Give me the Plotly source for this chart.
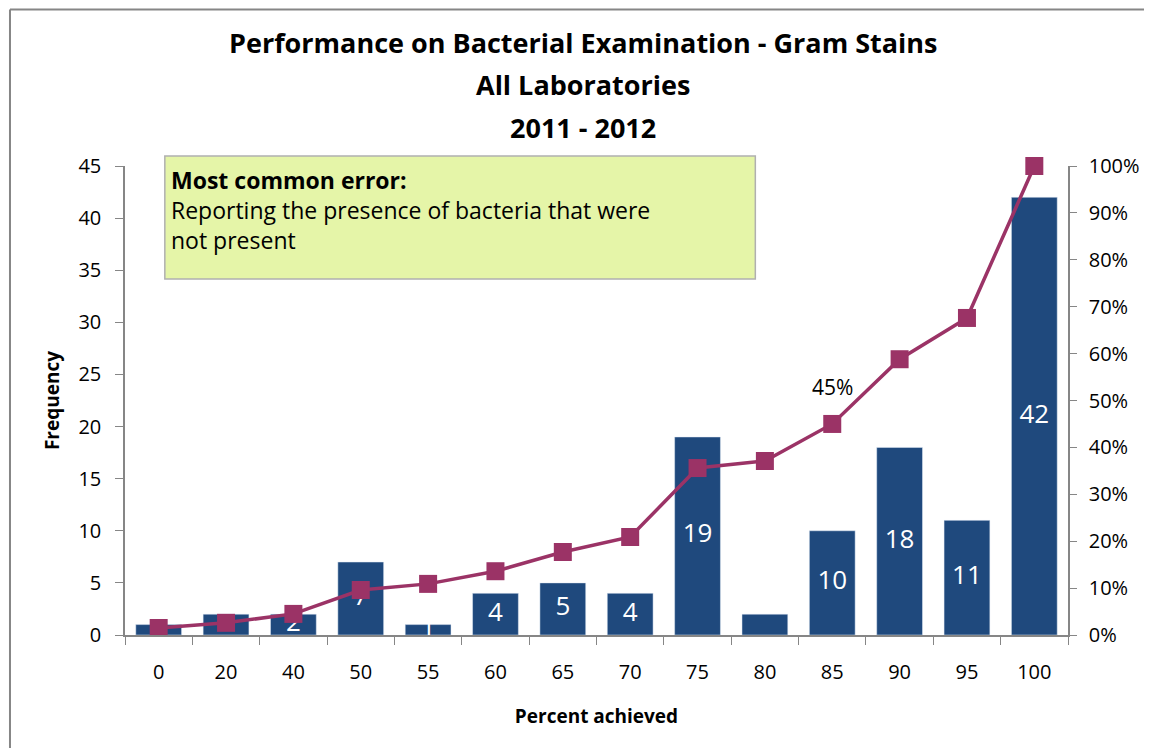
import plotly.graph_objects as go

# Data
scores = ["0", "20", "40", "50", "55", "60", "65", "70", "75", "80", "85", "90", "95", "100"]
frequency = [1, 2, 2, 7, 1, 4, 5, 4, 19, 2, 10, 18, 11, 42]
cumulative_pct = [0.015, 0.026, 0.045, 0.096, 0.109, 0.136, 0.177, 0.209, 0.356, 0.371, 0.45, 0.588, 0.676, 1.0]
bar_labels = ["", "", "2", "7", "1", "4", "5", "4", "19", "", "10", "18", "11", "42"]
title_lines = ["Performance on Bacterial Examination - Gram Stains", "All Laboratories", "2011 - 2012"]

FONT = "'Open Sans', sans-serif"
BAR = "#1F497D"
LINE = "#9B3366"
AXIS = "#868686"

# page pixels -> paper coords (plot area spans x 125..1072, y 166..635 on the page)
def px(x):
    return (x - 125) / 947

def py(y):
    return (635 - y) / 469

fig = go.Figure()

fig.add_trace(go.Bar(x=scores, y=frequency, marker_color=BAR, name="Frequency"))

# white labels in the middle of each bar
fig.add_trace(go.Scatter(
    x=scores, y=[v / 2 for v in frequency], mode="text", text=bar_labels,
    textfont=dict(color="white", size=26, family=FONT), hoverinfo="skip"))

fig.add_trace(go.Scatter(
    x=scores, y=cumulative_pct, yaxis="y2", mode="lines+markers", cliponaxis=False,
    line=dict(color=LINE, width=3.5),
    marker=dict(symbol="square", size=18, color=LINE), name="Cumulative %"))

# only the 85 point carries a percentage label (category index on the axis)
i85 = scores.index("85")
fig.add_annotation(x=i85, y=cumulative_pct[i85], xref="x", yref="y2", text="45%",
                   showarrow=False, yshift=37, font=dict(size=21, color="black", family=FONT))

# title, one annotation per line
for k, line in enumerate(title_lines):
    fig.add_annotation(xref="paper", yref="paper", x=px(585), y=py(43 + 42 * k),
                       text="<b>" + line + "</b>", showarrow=False, xanchor="center", yanchor="middle",
                       font=dict(size=27, family=FONT, color="black"))

# note box
fig.add_shape(type="rect", xref="paper", yref="paper",
              x0=px(165), x1=px(758), y0=py(279), y1=py(156),
              fillcolor="#E5F5A8", line=dict(color="#B0B0B0", width=1.5), layer="above")
fig.add_annotation(xref="paper", yref="paper", x=px(169), y=py(162),
                   xanchor="left", yanchor="top", align="left", showarrow=False,
                   text="<b>Most common error:</b><br>Reporting the presence of bacteria that were<br>not present",
                   font=dict(size=23, color="black", family=FONT))

# outer chart border: only its top and left edges fall inside the picture
fig.add_shape(type="line", xref="paper", yref="paper",
              x0=px(9.5), x1=px(1152), y0=py(9.5), y1=py(9.5),
              line=dict(color=AXIS, width=2), layer="below")
fig.add_shape(type="line", xref="paper", yref="paper",
              x0=px(9.5), x1=px(9.5), y0=py(9.5), y1=py(756),
              line=dict(color=AXIS, width=2), layer="below")

fig.update_layout(
    width=1144, height=740,
    margin=dict(l=117, r=80, t=158, b=113),
    paper_bgcolor="white", plot_bgcolor="white",
    showlegend=False, bargap=0.32,
    font=dict(family=FONT, size=20, color="black"),
    xaxis=dict(title=dict(text="<b>Percent achieved</b>", font=dict(size=19), standoff=26),
               type="category", range=[-0.5, 13.5], showline=True, linecolor=AXIS, linewidth=1.5,
               ticks="outside", tickson="boundaries", ticklen=8, tickcolor=AXIS,
               ticklabelstandoff=18, showgrid=False, tickfont=dict(size=20), tickangle=0),
    yaxis=dict(title=dict(text="<b>Frequency</b>", font=dict(size=19), standoff=14),
               range=[0, 45], dtick=5, showline=True, linecolor=AXIS, linewidth=1.5,
               ticks="outside", ticklen=8, tickcolor=AXIS, ticklabelstandoff=10,
               showgrid=False, zeroline=False, tickfont=dict(size=20)),
    yaxis2=dict(overlaying="y", side="right", range=[0, 1], dtick=0.1, tickformat=".0%",
                showline=True, linecolor=AXIS, linewidth=1.5, ticks="outside", ticklen=7,
                tickcolor=AXIS, ticklabelstandoff=8, showgrid=False, zeroline=False,
                tickfont=dict(size=20)),
)

fig.write_html("out.html")
